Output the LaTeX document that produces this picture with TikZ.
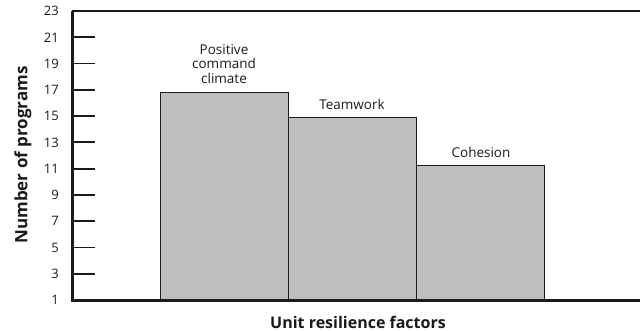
\documentclass[tikz,border=0pt]{standalone}
\usepackage{fontspec}
\setmainfont{Open Sans}
\definecolor{barfill}{HTML}{BDBEC0}
\definecolor{ink}{HTML}{1A1A1A}
\begin{document}
\begin{tikzpicture}[x=1pt,y=-1pt,
  bar/.style={draw=ink,line width=0.9pt,fill=barfill},
  tick/.style={draw=ink,line width=1.8pt},
  ticklabel/.style={anchor=east,font=\fontsize{13}{14}\selectfont,inner sep=0pt,text=ink},
  barlabel/.style={align=center,font=\fontsize{13.5}{14.2}\selectfont,inner sep=0pt,text=ink},
  axislabel/.style={font=\fontsize{16}{18}\selectfont\bfseries,inner sep=0pt,text=ink}]
\useasboundingbox (0,0) rectangle (640,331);
% bars
\node[bar,minimum width=128pt,minimum height=207pt,anchor=south west,inner sep=0pt] (b1) at (160,300) {};
\node[bar,minimum width=128pt,minimum height=182pt,anchor=south west,inner sep=0pt] (b2) at (288,300) {};
\node[bar,minimum width=128pt,minimum height=134pt,anchor=south west,inner sep=0pt] (b3) at (416,300) {};
% frame
\coordinate (o) at (72,300);
\coordinate (tl) at (72,11);
\coordinate (tr) at (640,11);
\coordinate (br) at (640,300);
\draw[ink,line width=1.8pt] (tl) -- (tr);
\draw[ink,line width=3pt] (tl) -- (o) -- (br);
% ticks and labels
\foreach \v [count=\i from 0] in {1,3,...,23}{
  \pgfmathsetmacro{\yy}{300-\i*26.27}
  \node[ticklabel] (t\v) at (59,\yy) {\v};
}
\foreach \v [count=\i from 1] in {3,5,...,21}{
  \pgfmathsetmacro{\yy}{300-\i*26.27}
  \draw[tick] (72,\yy) -- (95,\yy);
}
% bar labels
\node[barlabel] (l1) at (224,64) {Positive\\command\\climate};
\node[barlabel] (l2) at (352,104) {Teamwork};
\node[barlabel] (l3) at (481,152) {Cohesion};
% axis labels
\node[axislabel,font=\fontsize{17}{19}\selectfont\bfseries,rotate=90] (yl) at (23,155) {Number of programs};
\node[axislabel] (xl) at (358,322) {Unit resilience factors};
\end{tikzpicture}
\end{document}
